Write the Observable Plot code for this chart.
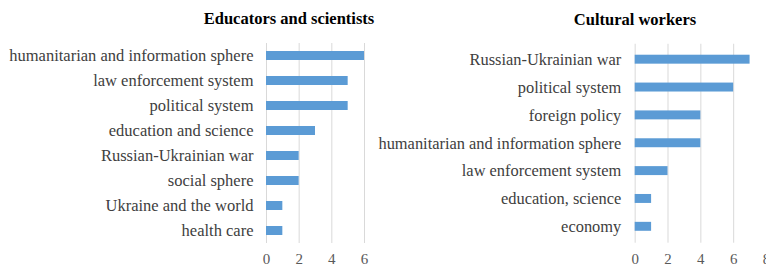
<!DOCTYPE html>
<html>
<head>
<meta charset="utf-8">
<script src="https://cdn.jsdelivr.net/npm/d3@7"></script>
<script src="https://cdn.jsdelivr.net/npm/@observablehq/plot@0.6"></script>
<style>
  html, body { margin: 0; padding: 0; background: #fff; }
  body { width: 766px; height: 266px; position: relative; overflow: hidden; font-family: 'Liberation Serif', serif; }
  .panel { position: absolute; top: 0; width: 383px; height: 266px; }
  .title { position: absolute; font-weight: bold; font-size: 16.5px; line-height: 19px; color: #000; white-space: nowrap; transform: translateX(-50%); }
  svg { position: absolute; top: 0; left: 0; overflow: visible; }
  svg text { font-family: 'Liberation Serif', serif; }
  svg g[aria-label="x-axis tick label"] text { font-size: 15px; fill: #595959; }
</style>
</head>
<body>
<div id="left" class="panel" style="left:0"></div>
<div id="right" class="panel" style="left:383px"></div>
<script>
const leftTitle = "Educators and scientists";
const leftCategories = ["humanitarian and information sphere", "law enforcement system", "political system", "education and science", "Russian-Ukrainian war", "social sphere", "Ukraine and the world", "health care"];
const leftValues = [6, 5, 5, 3, 2, 2, 1, 1];
const leftTicks = [0, 2, 4, 6];

const rightTitle = "Cultural workers";
const rightCategories = ["Russian-Ukrainian war", "political system", "foreign policy", "humanitarian and information sphere", "law enforcement system", "education, science", "economy"];
const rightValues = [7, 6, 4, 4, 2, 1, 1];
const rightTicks = [0, 2, 4, 6, 8];

const barColor = "#5b9bd5";
const gridColor = "#d9d9d9";

function panel(el, title, titleX, titleY, cats, vals, ticks, opts) {
  const data = cats.map((c, i) => ({category: c, value: vals[i]}));
  const chart = Plot.plot({
    width: opts.width,
    height: 266,
    marginLeft: opts.marginLeft,
    marginRight: opts.marginRight,
    marginTop: opts.marginTop,
    marginBottom: opts.marginBottom,
    style: {fontFamily: "'Liberation Serif', serif", fontSize: "16.5px", color: "#404040", overflow: "visible"},
    x: {domain: [ticks[0], ticks[ticks.length - 1]], ticks: ticks, tickFormat: "d", tickSize: 0, tickPadding: 10, label: null},
    y: {domain: cats, paddingInner: opts.padding, paddingOuter: opts.padding / 2, tickSize: 0, tickPadding: opts.tickPadding, label: null},
    marks: [
      Plot.gridX(ticks, {stroke: gridColor, strokeOpacity: 1, strokeWidth: 1}),
      Plot.barX(data, {x: "value", y: "category", fill: barColor})
    ]
  });
  el.appendChild(chart);
  const t = document.createElement("div");
  t.className = "title";
  t.textContent = title;
  t.style.left = titleX + "px";
  t.style.top = titleY + "px";
  el.appendChild(t);
}

panel(document.getElementById("left"), leftTitle, 289, 9, leftCategories, leftValues, leftTicks,
  {width: 383, marginLeft: 266, marginRight: 19, marginTop: 43, marginBottom: 23, padding: 0.64, tickPadding: 13});
panel(document.getElementById("right"), rightTitle, 252, 10, rightCategories, rightValues, rightTicks,
  {width: 385, marginLeft: 253, marginRight: 0, marginTop: 44, marginBottom: 22, padding: 0.67, tickPadding: 14});
</script>
</body>
</html>
